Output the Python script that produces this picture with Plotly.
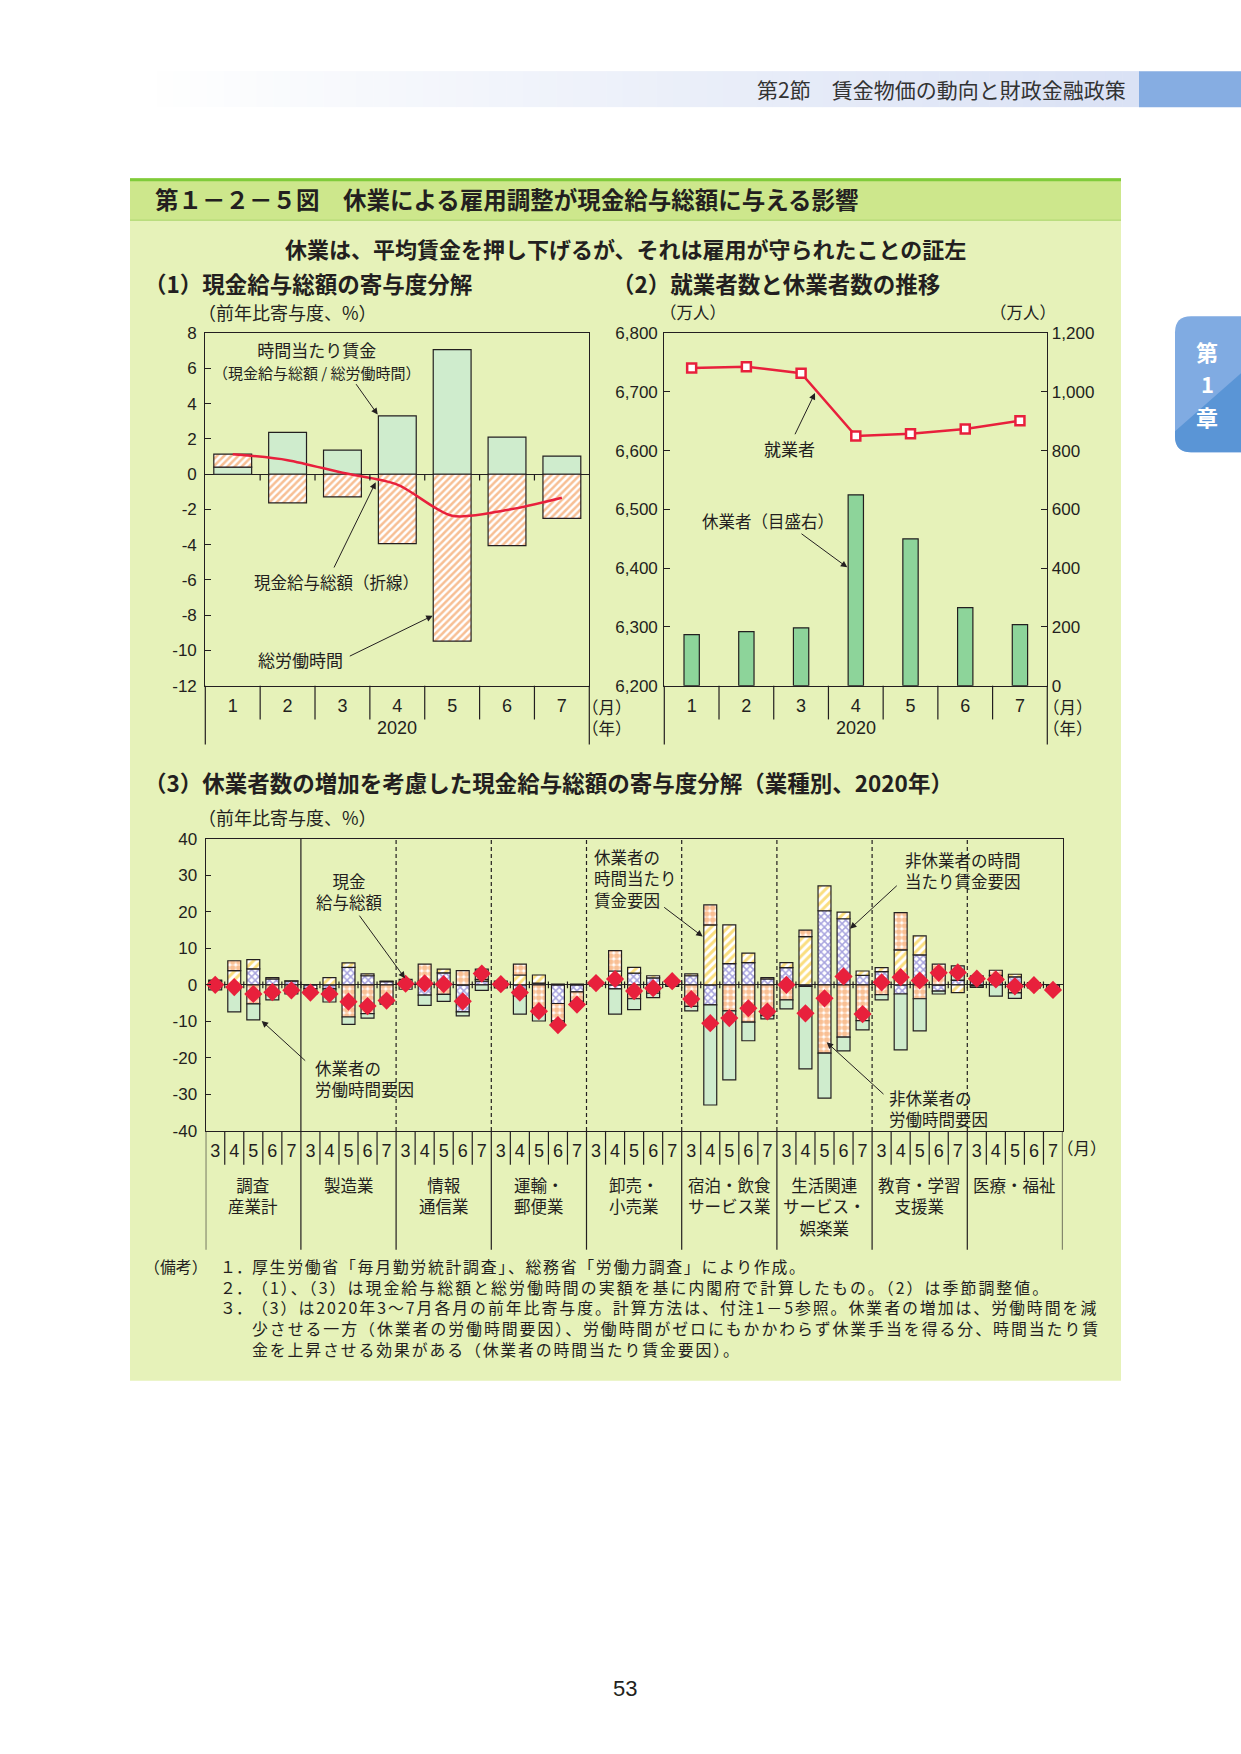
import plotly.graph_objects as go

W, H = 1241, 1754
# the rendered page maps figure y -> 7.9 + 0.9887*y ; compensate so marks land where the reference has them
VOFF, VSC = 7.9, 0.9887
def X(px): return px / W
def Y(py): return 1 - ((py - VOFF) / VSC) / H

CJK = "Noto Sans CJK JP"
NUM = "Liberation Sans, Noto Sans CJK JP"
INK = "#231f20"
RED = "#e8203c"

# ---------------- data ----------------
# (1) contributions to total cash earnings (%pt)
months_p1 = ["1", "2", "3", "4", "5", "6", "7"]
year_label = "2020"
wage_per_hour = [0.40, 2.38, 1.37, 3.31, 7.07, 2.11, 1.03]
total_hours = [0.74, -1.63, -1.29, -3.94, -9.47, -4.05, -2.51]
cash_total = [1.14, 0.80, 0.08, -0.59, -2.36, -2.03, -1.33]
p1_yticks = [8, 6, 4, 2, 0, -2, -4, -6, -8, -10, -12]
p1_yticktext = ["8", "6", "4", "2", "0", "-2", "-4", "-6", "-8", "-10", "-12"]

# (2) employed (left, 10k persons) and furloughed (right, 10k persons)
employed = [6741, 6743, 6732, 6625, 6629, 6637, 6651]
furloughed = [174, 184, 197, 650, 500, 266, 208]
p2_left_ticks = [6200, 6300, 6400, 6500, 6600, 6700, 6800]
p2_left_text = ["6,200", "6,300", "6,400", "6,500", "6,600", "6,700", "6,800"]
p2_right_ticks = [0, 200, 400, 600, 800, 1000, 1200]
p2_right_text = ["0", "200", "400", "600", "800", "1,000", "1,200"]

# (3) by industry, months 3-7
industries = ["調査<br>産業計", "製造業", "情報<br>通信業", "運輸・<br>郵便業", "卸売・<br>小売業",
              "宿泊・飲食<br>サービス業", "生活関連<br>サービス・<br>娯楽業", "教育・学習<br>支援業", "医療・福祉"]
months_p3 = ["3", "4", "5", "6", "7"]
nonfurl_wage = [  # 非休業者の時間当たり賃金要因
    [1.0, -0.2, 4.4, 1.6, 1.0],
    [-1.0, -1.1, 4.8, 2.5, 0.9],
    [0.3, -2.8, 3.3, -7.4, 1.0],
    [-0.4, -3.0, 0.5, -5.1, -1.9],
    [0.3, -1.1, 3.2, 1.9, 0.9],
    [2.5, -5.5, 5.8, 6.1, 1.6],
    [4.7, -0.4, 20.3, 18.1, 2.6],
    [3.6, -2.5, 8.2, -1.7, 1.3],
    [2.4, 1.8, 2.2, 0.4, -0.1],
]
furl_wage = [  # 休業者の時間当たり賃金要因
    [0.3, 3.9, 2.5, 0.4, 0.1],
    [0.0, 2.0, 1.2, 0.5, 0.1],
    [0.0, 1.0, 1.0, 0.0, 0.5],
    [0.0, 2.7, 2.2, 0.2, 0.2],
    [0.2, 3.8, 1.6, 0.6, 0.1],
    [0.5, 16.4, 10.6, 2.6, 0.4],
    [1.4, 13.2, 6.8, 1.8, 1.2],
    [1.1, 9.6, 5.2, 0.0, -2.1],
    [0.0, 0.8, 0.7, 0.2, 0.0],
]
nonfurl_hours = [  # 非休業者の労働時間要因
    [-0.6, 2.7, -5.2, -2.7, -1.8],
    [-1.3, -1.0, -8.8, -7.9, -4.7],
    [-1.2, 4.7, -2.6, 3.9, 2.8],
    [1.0, 3.0, -6.4, -4.8, -2.6],
    [0.3, 5.6, -3.8, -2.3, 0.3],
    [-5.9, 5.5, -7.1, -10.2, -8.4],
    [-4.1, 1.8, -18.7, -14.3, -9.8],
    [-2.7, 10.2, -3.8, 5.7, 0.0],
    [-0.3, 1.4, -2.2, -0.5, -0.9],
]
furl_hours = [  # 休業者の労働時間要因
    [-0.8, -7.2, -4.4, -1.4, -0.7],
    [-0.2, -2.6, -2.0, -1.2, -0.6],
    [1.2, -2.8, -1.9, -1.1, -1.5],
    [-0.4, -5.0, -3.5, -1.3, -1.1],
    [-0.3, -6.9, -3.0, -1.2, -0.4],
    [-1.2, -27.4, -18.9, -5.1, -0.9],
    [-2.5, -22.6, -12.3, -3.8, -2.5],
    [-1.4, -15.3, -8.8, -0.8, 3.9],
    [-0.4, -3.1, -1.5, -0.3, -0.5],
]
cash_by_industry = [  # 現金給与総額
    [0.0, -0.6, -2.5, -2.0, -1.5],
    [-2.1, -2.5, -4.6, -5.8, -4.3],
    [0.3, 0.4, 0.2, -4.5, 3.1],
    [0.2, -2.1, -7.2, -11.0, -5.4],
    [0.5, 1.6, -1.7, -0.9, 1.0],
    [-3.9, -10.5, -9.1, -6.4, -7.3],
    [0.0, -7.8, -3.7, 2.3, -8.0],
    [0.7, 2.1, 1.2, 3.3, 3.4],
    [1.7, 1.5, -0.4, -0.1, -1.4],
]
p3_yticks = [40, 30, 20, 10, 0, -10, -20, -30, -40]
p3_yticktext = ["40", "30", "20", "10", "0", "-10", "-20", "-30", "-40"]

# ---------------- figure ----------------
fig = go.Figure()

idx1 = list(range(len(months_p1)))
# Panel 1
fig.add_bar(x=idx1, y=wage_per_hour, width=0.69, xaxis="x", yaxis="y",
            marker=dict(color="#cfeccd", line=dict(color=INK, width=1.2)))
fig.add_bar(x=idx1, y=total_hours, width=0.69, xaxis="x", yaxis="y",
            marker=dict(color="white", line=dict(color=INK, width=1.2),
                        pattern=dict(shape="/", fgcolor="#f0802a", bgcolor="white", size=5, solidity=0.5)))
fig.add_scatter(x=idx1, y=cash_total, mode="lines", xaxis="x", yaxis="y",
                line=dict(color=RED, width=2.5, shape="spline", smoothing=0.8))

# Panel 2
fig.add_bar(x=idx1, y=furloughed, width=0.28, xaxis="x2", yaxis="y3",
            marker=dict(color="#8dd49a", line=dict(color=INK, width=1.2)))
fig.add_scatter(x=idx1, y=employed, mode="lines+markers", xaxis="x2", yaxis="y2",
                line=dict(color=RED, width=2.5),
                marker=dict(symbol="square", size=9, color="white", line=dict(color=RED, width=2.5)))

# Panel 3
n_ind, n_m = len(industries), len(months_p3)
x3 = [g * n_m + m for g in range(n_ind) for m in range(n_m)]
flat = lambda a: [v for row in a for v in row]
bar_line = dict(color=INK, width=1.2)
fig.add_bar(x=x3, y=flat(nonfurl_wage), width=0.68, xaxis="x3", yaxis="y4",
            marker=dict(color="white", line=bar_line,
                        pattern=dict(shape="x", fgcolor="#4f48bd", bgcolor="white", size=5, solidity=0.5)))
fig.add_bar(x=x3, y=flat(furl_wage), width=0.68, xaxis="x3", yaxis="y4",
            marker=dict(color="white", line=bar_line,
                        pattern=dict(shape="/", fgcolor="#f5bd00", bgcolor="white", size=6, solidity=0.5)))
fig.add_bar(x=x3, y=flat(nonfurl_hours), width=0.68, xaxis="x3", yaxis="y4",
            marker=dict(color="white", line=bar_line,
                        pattern=dict(shape=".", fgcolor="#f37f28", bgcolor="white", size=6, solidity=0.7)))
fig.add_bar(x=x3, y=flat(furl_hours), width=0.68, xaxis="x3", yaxis="y4",
            marker=dict(color="#cfeccd", line=bar_line))
fig.add_scatter(x=x3, y=flat(cash_by_industry), mode="markers", xaxis="x3", yaxis="y4",
                marker=dict(symbol="diamond", size=14, color=RED, line=dict(width=0)))

# ---------------- axes ----------------
base = dict(showgrid=False, showline=True, linecolor=INK, linewidth=1.2, mirror=True)
tick_num = dict(family=NUM, size=17, color=INK)

fig.update_layout(
    width=W, height=H, margin=dict(l=0, r=0, t=0, b=0), autosize=False,
    paper_bgcolor="white", plot_bgcolor="white",
    barmode="relative", showlegend=False,
    xaxis=dict(domain=[X(205.3), X(589.3)], anchor="y", range=[-0.5, 6.5],
               tickmode="array", tickvals=idx1, ticktext=months_p1, ticks="",
               tickfont=dict(family=NUM, size=18, color=INK), ticklabelstandoff=4, zeroline=False, **base),
    yaxis=dict(domain=[Y(684.3), Y(332)], anchor="x", range=[-12, 8],
               tickmode="array", tickvals=p1_yticks, ticktext=p1_yticktext,
               ticks="inside", ticklen=6, tickcolor=INK, tickfont=tick_num, ticklabelstandoff=4,
               zeroline=True, zerolinecolor=INK, zerolinewidth=1.2, **base),
    xaxis2=dict(domain=[X(664.3), X(1047.3)], anchor="y2", range=[-0.5, 6.5],
                tickmode="array", tickvals=idx1, ticktext=months_p1, ticks="",
                tickfont=dict(family=NUM, size=18, color=INK), ticklabelstandoff=4, zeroline=False, **base),
    yaxis2=dict(domain=[Y(684.3), Y(332)], anchor="x2", range=[6200, 6800],
                tickmode="array", tickvals=p2_left_ticks, ticktext=p2_left_text,
                ticks="inside", ticklen=6, tickcolor=INK, tickfont=tick_num, ticklabelstandoff=2,
                zeroline=False, **base),
    yaxis3=dict(anchor="x2", overlaying="y2", side="right", range=[0, 1200],
                tickmode="array", tickvals=p2_right_ticks, ticktext=p2_right_text,
                ticks="inside", ticklen=6, tickcolor=INK, tickfont=tick_num,
                showgrid=False, zeroline=False, showline=True, linecolor=INK, linewidth=1.2),
    xaxis3=dict(domain=[X(205.7), X(1062.5)], anchor="y4", range=[-0.5, n_ind * n_m - 0.5],
                tickmode="array", tickvals=x3, ticktext=months_p3 * n_ind, ticks="",
                tickfont=dict(family=NUM, size=18, color=INK), ticklabelstandoff=3, zeroline=False, **base),
    yaxis4=dict(domain=[Y(1129.3), Y(837.3)], anchor="x3", range=[-40, 40],
                tickmode="array", tickvals=p3_yticks, ticktext=p3_yticktext,
                ticks="inside", ticklen=5, tickcolor=INK, tickfont=tick_num, ticklabelstandoff=4,
                zeroline=True, zerolinecolor=INK, zerolinewidth=1.2, **base),
)

# ---------------- shapes ----------------
shapes = []
def rect(x0, y0, x1, y1, fill, line=None, lw=0, layer="below"):
    shapes.append(dict(type="rect", xref="paper", yref="paper", x0=X(x0), x1=X(x1), y0=Y(y1), y1=Y(y0),
                       fillcolor=fill, line=dict(color=line or fill, width=lw), layer=layer))
def pline(x0, y0, x1, y1, color=INK, w=1.2, dash="solid", layer="above"):
    shapes.append(dict(type="line", xref="paper", yref="paper", x0=X(x0), x1=X(x1), y0=Y(y0), y1=Y(y1),
                       line=dict(color=color, width=w, dash=dash), layer=layer))

# header gradient band
n_steps = 60
x_start, x_end = 140, 1139
for i in range(n_steps):
    t = i / (n_steps - 1)
    r = int(255 + (218 - 255) * t); g = int(255 + (226 - 255) * t); b = int(255 + (245 - 255) * t)
    xa = x_start + (x_end - x_start) * i / n_steps
    xb = x_start + (x_end - x_start) * (i + 1) / n_steps + 0.5
    rect(xa, 70, xb, 106, f"rgb({r},{g},{b})")
rect(1139, 70, 1241, 106, "#86ade2")

# figure box
rect(130, 177, 1121, 1379, "#e6f2b9")
rect(130, 177, 1121, 219, "#cde78c")
pline(130, 178.5, 1121, 178.5, color="#7fcb3b", w=3, layer="below")
pline(130, 219, 1121, 219, color="#a8d66a", w=1, layer="below")

# side tab
def P(px, py): return f"{X(px):.5f},{Y(py):.5f}"
r0 = 16
tab = (f"M {P(1241,315)} L {P(1175+r0,315)} Q {P(1175,315)} {P(1175,315+r0)} "
       f"L {P(1175,451-r0)} Q {P(1175,451)} {P(1175+r0,451)} L {P(1241,451)} Z")
shapes.append(dict(type="path", xref="paper", yref="paper", path=tab, fillcolor="#80abe2",
                   line=dict(width=0), layer="below"))
tab2 = (f"M {P(1241,372)} L {P(1175,430)} L {P(1175,451-r0)} Q {P(1175,451)} {P(1175+r0,451)} "
        f"L {P(1241,451)} Z")
shapes.append(dict(type="path", xref="paper", yref="paper", path=tab2, fillcolor="#5a95d6",
                   line=dict(width=0), layer="below"))

# panel 1 & 2 category area lines
for (xl, xr, xa) in [(205.3, 589.3, "x"), (664.3, 1047.3, "x2")]:
    pline(xl, 684.3, xl, 743)
    pline(xr, 684.3, xr, 743)
    for k in range(len(months_p1) - 1):
        shapes.append(dict(type="line", xref=xa, yref="paper", x0=k + 0.5, x1=k + 0.5,
                           y0=Y(684.3), y1=Y(718), line=dict(color=INK, width=1.2)))
# panel 1 zero-line ticks
for k in range(len(months_p1) - 1):
    shapes.append(dict(type="line", xref="x", yref="y", x0=k + 0.5, x1=k + 0.5, y0=0, y1=-0.35,
                       line=dict(color=INK, width=1.2)))

# panel 3 separators
for gi in range(n_ind + 1):
    xv = gi * n_m - 0.5
    shapes.append(dict(type="line", xref="x3", yref="paper", x0=xv, x1=xv, y0=Y(1129.3), y1=Y(1248),
                       line=dict(color=INK, width=1.2)))
    if 1 <= gi <= n_ind - 1:
        shapes.append(dict(type="line", xref="x3", yref="paper", x0=xv, x1=xv, y0=Y(1129.3), y1=Y(837.3),
                           line=dict(color=INK, width=1.2, dash="solid" if gi == 1 else "4px,3px")))
for k in range(n_ind * n_m - 1):
    xv = k + 0.5
    if (k + 1) % n_m != 0:
        shapes.append(dict(type="line", xref="x3", yref="paper", x0=xv, x1=xv, y0=Y(1129.3), y1=Y(1163),
                           line=dict(color=INK, width=1.2)))
    shapes.append(dict(type="line", xref="x3", yref="y4", x0=xv, x1=xv, y0=-0.9, y1=0.9,
                       line=dict(color=INK, width=1.2)))

fig.update_layout(shapes=shapes)

# ---------------- annotations ----------------
ann = []
def txt(x, y, s, size=17, xanchor="center", yanchor="middle", bold=False, color=INK, family=CJK, align="left"):
    if bold:
        s = f"<b>{s}</b>"
    ann.append(dict(x=X(x), y=Y(y), xref="paper", yref="paper", text=s, showarrow=False,
                    xanchor=xanchor, yanchor=yanchor, align=align,
                    font=dict(family=family, size=size, color=color)))
def arrow(hx, hy, tx, ty):
    ann.append(dict(x=X(hx), y=Y(hy), xref="paper", yref="paper", ax=tx - hx, ay=(ty - hy) / VSC,
                    axref="pixel", ayref="pixel", text="", showarrow=True, arrowhead=2,
                    arrowsize=1.3, arrowwidth=1, arrowcolor=INK))

# header / titles
txt(1128, 88, "第2節　賃金物価の動向と財政金融政策", size=21, xanchor="right", color="#333333")
txt(153, 198, "第１－２－５図　休業による雇用調整が現金給与総額に与える影響", size=23.5, xanchor="left", bold=True)
txt(625, 247, "休業は、平均賃金を押し下げるが、それは雇用が守られたことの証左", size=22, bold=True)
txt(142, 282, "（1）現金給与総額の寄与度分解", size=22.5, xanchor="left", bold=True)
txt(610, 282, "（2）就業者数と休業者数の推移", size=22.5, xanchor="left", bold=True)
txt(142, 781, "（3）休業者数の増加を考慮した現金給与総額の寄与度分解（業種別、2020年）", size=22.5,
    xanchor="left", bold=True)
for ch, yy in zip(["第", "1", "章"], [350, 382, 415]):
    txt(1207, yy, ch, size=22, bold=True, color="white")

# panel 1
txt(196, 310.7, "（前年比寄与度、%）", size=18, xanchor="left")
txt(317, 359, "時間当たり賃金<br><span style='font-size:15px'>（現金給与総額 / 総労働時間）</span>",
    size=17, align="center")
arrow(377.7, 413.3, 355, 381.7)
txt(336.7, 580.7, "現金給与総額（折線）", size=16.5)
arrow(375.7, 481, 333.3, 566.7)
txt(300, 658, "総労働時間", size=17)
arrow(432.7, 614.3, 348.3, 655)
txt(397.3, 727, year_label, size=18, family=NUM)
txt(580, 716, "（月）<br>（年）", size=16.5, xanchor="left")

# panel 2
txt(692.5, 310.7, "（万人）", size=16.5)
txt(1022.5, 310.7, "（万人）", size=16.5)
txt(789, 447.3, "就業者", size=17)
arrow(815, 391.7, 794.3, 434)
txt(768, 520, "休業者（目盛右）", size=16.5)
arrow(847.3, 566, 800, 531.7)
txt(855.8, 727, year_label, size=18, family=NUM)
txt(1040.5, 716, "（月）<br>（年）", size=16.5, xanchor="left")

# panel 3
txt(196, 816, "（前年比寄与度、%）", size=18, xanchor="left")
txt(349, 890, "現金<br>給与総額", size=16.5, align="center")
arrow(405, 976.7, 358.3, 913.3)
txt(313.3, 1076.7, "休業者の<br>労働時間要因", size=16.5, xanchor="left")
arrow(261.7, 1019.3, 306.7, 1060)
txt(591.7, 876.7, "休業者の<br>時間当たり<br>賃金要因", size=16.5, xanchor="left")
arrow(702.7, 935, 662.7, 905)
txt(903.3, 869, "非休業者の時間<br>当たり賃金要因", size=16.5, xanchor="left")
arrow(850, 927.3, 898.3, 883.3)
txt(886.7, 1106.7, "非休業者の<br>労働時間要因", size=16.5, xanchor="left")
arrow(826.7, 1040.7, 885, 1093.3)
txt(1055, 1146, "（月）", size=16.5, xanchor="left")
for gi, name in enumerate(industries):
    ann.append(dict(x=gi * n_m + (n_m - 1) / 2, y=Y(1169), xref="x3", yref="paper", text=name,
                    showarrow=False, xanchor="center", yanchor="top", align="center",
                    font=dict(family=CJK, size=16.5, color=INK)))

# notes (single blocks so that lines do not collide)
note_nums = ["１．", "２．", "３．"]
note_lines = [
    "厚生労働省「毎月勤労統計調査」、総務省「労働力調査」により作成。",
    "（1）、（3）は現金給与総額と総労働時間の実額を基に内閣府で計算したもの。（2）は季節調整値。",
    "（3）は2020年3～7月各月の前年比寄与度。計算方法は、付注1－5参照。休業者の増加は、労働時間を減",
    "少させる一方（休業者の労働時間要因）、労働時間がゼロにもかかわらず休業手当を得る分、時間当たり賃",
    "金を上昇させる効果がある（休業者の時間当たり賃金要因）。",
]
note_spacing = [1.7, 2.05, 1.95, 1.95, 1.85]
NOTE_SIZE = 15.9
body = "<br>".join(f"<span style='letter-spacing:{sp}px'>{ln}</span>" for ln, sp in zip(note_lines, note_spacing))
txt(142, 1251, "（備考）", size=NOTE_SIZE, xanchor="left", yanchor="top")
txt(218, 1251, "<br>".join(note_nums), size=NOTE_SIZE, xanchor="left", yanchor="top")
txt(250, 1251, body, size=NOTE_SIZE, xanchor="left", yanchor="top")

# page number
txt(625, 1687, "53", size=22, family=NUM)

fig.update_layout(annotations=ann)

fig.write_html("out.html",
               config={"displayModeBar": False, "responsive": False},
               post_script="document.body.style.margin='0';document.documentElement.style.overflow='hidden';")
